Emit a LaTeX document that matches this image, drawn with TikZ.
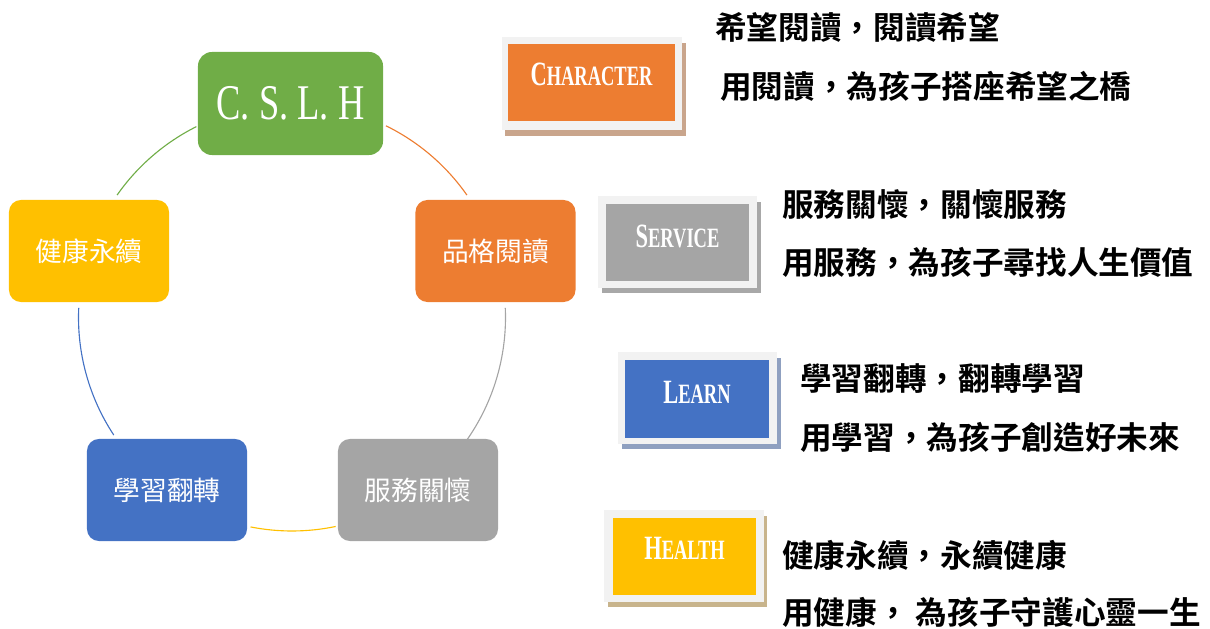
\documentclass[tikz,border=0pt]{standalone}
\usepackage{fontspec}
\usepackage{graphicx}
\setmainfont{Liberation Serif}
\newfontfamily\cjk{Noto Sans CJK TC}
\newfontfamily\cjkb{Noto Sans CJK TC Bold}
\usetikzlibrary{shadows}

\definecolor{cgreen}{HTML}{70AD47}
\definecolor{corange}{HTML}{ED7D31}
\definecolor{cgray}{HTML}{A5A5A5}
\definecolor{cblue}{HTML}{4472C4}
\definecolor{cyellow}{HTML}{FFC000}
\definecolor{cframe}{HTML}{F2F2F2}
\definecolor{sorange}{HTML}{C9A58C}
\definecolor{sgray}{HTML}{A8A8A8}
\definecolor{sblue}{HTML}{8FA0C0}
\definecolor{syellow}{HTML}{C8B48C}

% small caps look for the card words
\newcommand{\capword}[2]{\scalebox{0.66}[1]{\bfseries\fontsize{24.2}{24.2}\selectfont #1\fontsize{19.9}{19.9}\selectfont #2}}

\tikzset{
	cyclebox/.style={rounded corners=0.3cm, minimum width=4cm, minimum height=2.55cm, inner sep=0, text=white, font=\cjk\fontsize{19}{19}\selectfont},
	cardframe/.style={fill=cframe, minimum width=3.975cm, minimum height=2.275cm, inner sep=0, drop shadow={shadow xshift=2.5pt, shadow yshift=-4pt, opacity=1, fill=#1}},
	cardbox/.style={fill=#1, minimum width=3.575cm, minimum height=1.925cm, inner sep=0},
	cardtext/.style={text=white, inner sep=0},
	motto/.style={anchor=west, inner sep=0, font=\cjkb\fontsize{22.5}{22.5}\selectfont}
}

\begin{document}
\begin{tikzpicture}[x=0.025cm, y=-0.025cm]
	
	\useasboundingbox (0,0) rectangle (1210,629);
	
	% the cycle
	\coordinate (o) at (292,317.5);
	\def\R{213.5};
	
	\node[cyclebox, fill=cgreen, minimum width=4.625cm, minimum height=2.575cm, rounded corners=0.35cm, font=\fontsize{35.5}{35.5}\selectfont] (cslh) at (290.5,103.5) {\scalebox{0.73}[1]{C. S. L. H}};
	\node[cyclebox, fill=corange] (read) at (495.5,251) {品格閱讀};
	\node[cyclebox, fill=cgray] (serve) at (418,490) {服務關懷};
	\node[cyclebox, fill=cblue] (learn) at (167,490) {學習翻轉};
	\node[cyclebox, fill=cyellow] (health) at (89,251) {健康永續};
	
	% the arcs between the boxes
	\foreach \a/\b/\c in {-63.9/-35/corange, -2.6/36.9/cgray, 78.2/101.2/cyellow, 146.6/182.6/cblue, -145/-116.6/cgreen}
		\draw[\c, line width=0.8pt] (o) ++(\a:\R) arc (\a:\b:\R);
	
	% the cards
	\node[cardframe=sorange, minimum width=4.5cm, minimum height=2.325cm] (chrf) at (592,83.5) {};
	\node[cardbox=corange, minimum width=4.175cm] (chr) at (591.5,82.5) {};
	\node[cardtext] (chrt) at ([yshift=6pt]chr.center) {\capword{C}{HARACTER}};
	
	\node[cardframe=sgray] (srvf) at (677.5,242) {};
	\node[cardbox=cgray] (srv) at (677.5,242.5) {};
	\node[cardtext] (srvt) at ([yshift=4pt]srv.center) {\capword{S}{ERVICE}};
	
	\node[cardframe=sblue] (lrnf) at (697.5,398) {};
	\node[cardbox=cblue] (lrn) at (697,399) {};
	\node[cardtext] (lrnt) at ([yshift=5pt]lrn.center) {\capword{L}{EARN}};
	
	\node[cardframe=syellow] (hltf) at (684,556) {};
	\node[cardbox=cyellow] (hlt) at (684.5,556.5) {};
	\node[cardtext] (hltt) at ([yshift=6pt]hlt.center) {\capword{H}{EALTH}};
	
	% the mottos
	\node[motto] (chr1) at (715,27) {希望閱讀，閱讀希望};
	\node[motto] (chr2) at (720,86) {用閱讀，為孩子搭座希望之橋};
	\node[motto] (srv1) at (782,204) {服務關懷，關懷服務};
	\node[motto] (srv2) at (782,262) {用服務，為孩子尋找人生價值};
	\node[motto] (lrn1) at (800,379) {學習翻轉，翻轉學習};
	\node[motto] (lrn2) at (800,437) {用學習，為孩子創造好未來};
	\node[motto] (hlt1) at (782,555) {健康永續，永續健康};
	\node[motto] (hlt2) at (782,612) {用健康， 為孩子守護心靈一生};
	
\end{tikzpicture}
\end{document}
